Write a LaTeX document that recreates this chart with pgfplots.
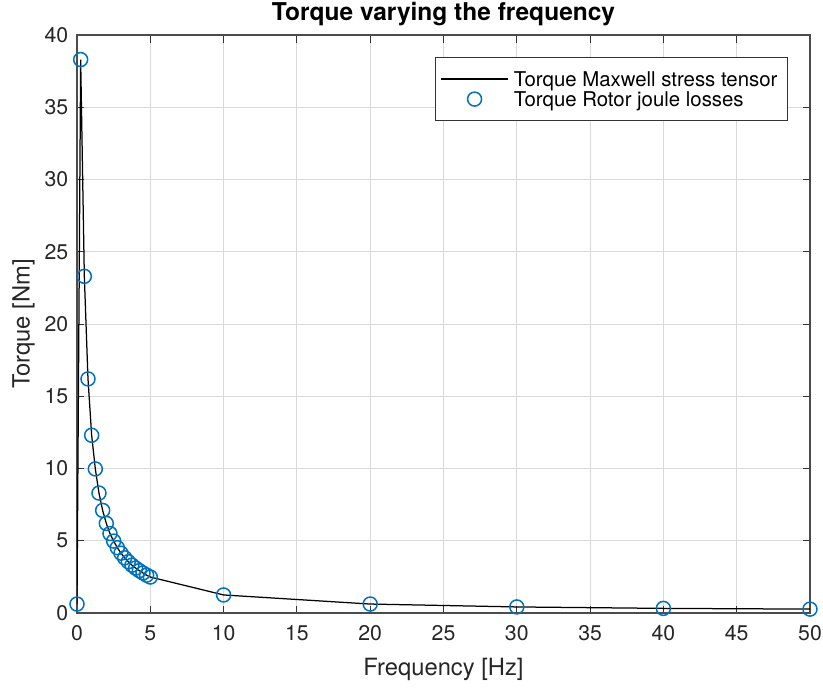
\documentclass[border=0pt]{standalone}
\usepackage{pgfplots}
\pgfplotsset{compat=1.18}
\usepackage{fontspec}
\setmainfont{TeX Gyre Heros}
\definecolor{mblue}{rgb}{0,0.447,0.741}
\pgfplotsset{
 longline legend/.style={legend image code/.code={\draw[##1](0pt,0pt)--(27pt,0pt);}},
 midmark legend/.style={legend image code/.code={\draw[##1] plot coordinates {(13.5pt,0pt)};}},
}
\pgfplotstableread{
f T
0 0.62
0.25 38.3
0.5 23.3
0.75 16.2
1.0 12.3
1.25 9.97
1.5 8.3
1.75 7.1
2.0 6.2
2.25 5.5
2.5 4.98
2.75 4.52
3.0 4.14
3.25 3.82
3.5 3.55
3.75 3.31
4.0 3.11
4.25 2.93
4.5 2.77
4.75 2.62
5.0 2.49
10 1.25
20 0.62
30 0.42
40 0.32
50 0.27
}\datatable
\begin{document}
\begin{tikzpicture}
\begin{axis}[
 scale only axis, width=293.2pt, height=231.2pt,
 xmin=0,xmax=50,ymin=0,ymax=40,
 xtick={0,5,...,50}, ytick={0,5,...,40},
 grid=major, grid style={black!15, line width=0.4pt},
 tick align=inside, major tick length=3pt,
 axis line style={black!70, line width=0.5pt},
 tick style={black!80, line width=0.4pt},
 title={\bfseries Torque varying the frequency},
 title style={font=\fontsize{9.8}{11}\selectfont, at={(0.5,1)}, anchor=base, yshift=0pt},
 xlabel={Frequency [Hz]}, ylabel={Torque [Nm]},
 label style={font=\fontsize{9.5}{11}\selectfont, black!85},
 xlabel style={yshift=0pt},
 ylabel style={yshift=-3pt},
 /pgf/number format/assume math mode=true,
 ticklabel style={font=\fontsize{8.5}{10}\selectfont, black!85},
 xticklabel style={yshift=-1.5pt},
 legend style={at={(0.97,0.962)}, anchor=north east, font=\fontsize{8.15}{10}\selectfont,
   draw=black!80, line width=0.5pt, inner xsep=2pt, inner ysep=4.6pt, row sep=0pt,
   nodes={inner xsep=2pt, inner ysep=0pt, text height=7pt, text depth=1pt}},
 legend cell align=left,
]
\addplot[black, line width=0.5pt, longline legend] table[x=f,y=T]{\datatable};
\addlegendentry{Torque Maxwell stress tensor}
\addplot[only marks, mark=o, mark size=2.8pt, mblue, mark options={line width=0.6pt}, midmark legend] table[x=f,y=T]{\datatable};
\addlegendentry{Torque Rotor joule losses}
\end{axis}
\pgfresetboundingbox
\path (-30.8pt,-31.2pt) rectangle (298.4pt,245.2pt);
\end{tikzpicture}
\end{document}
